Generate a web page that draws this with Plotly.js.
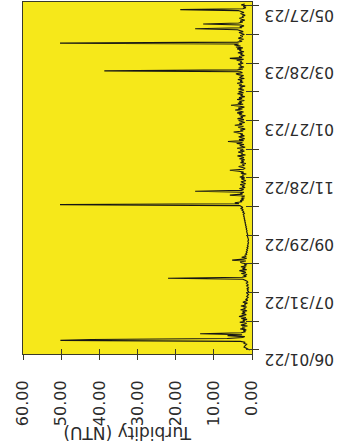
<!DOCTYPE html>
<html>
<head>
<meta charset="utf-8">
<script src="https://cdn.plot.ly/plotly-3.0.1.min.js"></script>
<style>
html,body{margin:0;padding:0;background:#fff;overflow:hidden;}
#chart{width:338px;height:446px;}
</style>
</head>
<body>
<div id="chart"></div>
<script>
// Daily turbidity readings (NTU), one per day starting at startDate
const startDate = '2022-06-01';
const turbidity = [
  0.6, 1.2, 1.8, 2.1, 1.9, 1.6, 1.4, 2.2, 1.8, 3.0,
  50.2, 42.0, 6.5, 2.4, 1.9, 6.4, 2.6, 13.6, 2.8, 1.7,
  2.3, 1.5, 3.1, 1.8, 2.6, 1.2, 2.9, 2.0, 1.4, 3.2,
  1.9, 2.4, 1.3, 2.8, 1.6, 3.4, 2.1, 1.5, 2.7, 1.8,
  2.5, 1.3, 3.0, 1.7, 2.2, 1.4, 2.9, 1.6, 2.0, 1.2,
  2.4, 1.5, 1.1, 1.6, 1.3, 1.0, 1.4, 1.2, 0.9, 1.3,
  1.1, 0.9, 1.2, 1.0, 1.3, 0.9, 1.1, 1.4, 1.0, 1.2,
  1.5, 1.1, 1.3, 1.8, 2.4, 22.0, 2.6, 1.5, 2.2, 1.3,
  2.8, 1.6, 2.1, 3.3, 1.4, 2.5, 1.7, 2.9, 1.5, 2.0,
  1.3, 2.6, 3.1, 1.6, 5.2, 2.2, 1.4, 2.7, 1.5, 1.9,
  1.4, 1.6, 1.3, 1.5, 1.2, 1.4, 1.1, 1.3, 1.0, 1.2,
  1.0, 1.1, 0.9, 1.0, 1.1, 0.9, 1.0, 1.0, 1.1, 1.2,
  1.1, 1.2, 1.3, 1.2, 1.4, 1.3, 1.5, 1.4, 1.6, 1.5,
  1.7, 1.6, 1.8, 1.7, 1.9, 1.8, 2.0, 1.9, 2.1, 2.0,
  2.2, 2.1, 2.3, 2.0, 2.4, 2.2, 2.6, 2.3, 3.0, 2.4,
  2.8, 3.2, 50.3, 3.4, 4.5, 2.6, 3.1, 2.2, 2.9, 2.0,
  2.7, 1.9, 5.8, 2.5, 3.0, 2.1, 14.9, 2.8, 2.2, 3.3,
  1.8, 2.6, 2.0, 3.1, 1.7, 2.4, 2.9, 1.6, 2.3, 2.8,
  1.9, 3.2, 2.1, 2.6, 1.5, 2.9, 2.2, 3.4, 5.8, 2.3,
  1.8, 2.7, 3.5, 2.0, 2.5, 1.6, 3.0, 2.2, 2.8, 1.9,
  3.3, 2.1, 2.6, 3.8, 1.7, 2.9, 2.4, 3.6, 2.0, 3.1,
  2.3, 3.9, 1.8, 2.7, 3.2, 2.1, 4.0, 2.5, 6.3, 2.2,
  3.4, 1.9, 2.8, 3.5, 2.0, 3.0, 2.4, 3.7, 4.8, 2.3,
  3.1, 1.8, 2.9, 3.6, 2.2, 4.5, 2.6, 3.3, 1.9, 2.8,
  3.5, 2.1, 3.8, 2.4, 3.0, 1.7, 3.4, 2.6, 3.9, 2.2,
  3.2, 4.4, 2.5, 3.6, 2.0, 3.1, 5.5, 2.3, 3.7, 2.7,
  3.3, 2.0, 3.9, 2.6, 3.4, 1.9, 3.0, 2.4, 3.8, 2.2,
  3.5, 2.8, 2.1, 3.6, 2.5, 3.2, 1.8, 3.4, 2.7, 3.9,
  2.3, 3.1, 2.6, 3.7, 2.0, 3.3, 2.9, 2.2, 3.6, 4.2,
  2.5, 3.0, 38.7, 3.8, 2.4, 3.5, 2.1, 3.2, 2.8, 3.6,
  2.3, 3.1, 2.7, 4.0, 2.2, 5.8, 2.6, 3.4, 2.0, 3.0,
  2.5, 3.7, 2.1, 3.3, 2.8, 3.9, 2.4, 4.2, 3.0, 4.6,
  3.5, 50.3, 3.8, 2.6, 3.3, 2.2, 3.6, 2.9, 2.4, 3.1,
  2.0, 2.7, 3.4, 2.3, 3.0, 3.8, 14.9, 2.6, 3.2, 2.1,
  2.9, 12.8, 3.5, 2.4, 3.1, 1.9, 2.7, 3.3, 2.2, 2.6,
  1.8, 2.5, 3.0, 2.1, 2.8, 3.6, 18.8, 2.4, 1.6, 2.3,
  1.5, 2.8, 1.9
];
// Date axis ticks (every 30 days, labelled every 60 days)
const dateTickVals = ['2022-06-01','2022-07-01','2022-07-31','2022-08-30','2022-09-29','2022-10-29',
  '2022-11-28','2022-12-28','2023-01-27','2023-02-26','2023-03-28','2023-04-27','2023-05-27'];
const dateTickLabels = ['06/01/22','','07/31/22','','09/29/22','','11/28/22','','01/27/23','','03/28/23','','05/27/23'];
// Turbidity axis ticks
const valueTicks = [0, 10, 20, 30, 40, 50, 60];
const valueTickLabels = ['0.00','10.00','20.00','30.00','40.00','50.00','60.00'];
const axisTitle = 'Turbidity (NTU)';

const dayMs = 86400000;
const t0 = Date.parse(startDate + 'T00:00:00Z');
const dates = turbidity.map((_, i) => new Date(t0 + i * dayMs).toISOString().slice(0, 10));

const font = {family: 'DejaVu Sans', size: 16, color: '#2b2b2b'};
const dateFont = {family: 'DejaVu Sans', size: 15.5, color: '#2b2b2b'};
const dateRange = ['2022-05-27 19:00', '2023-05-31'];

const traces = [
  {x: turbidity, y: dates, type: 'scatter', mode: 'lines',
   line: {color: '#151515', width: 1.1}, hoverinfo: 'x+y', showlegend: false},
  {x: [], y: [], xaxis: 'x2', yaxis: 'y2', type: 'scatter', mode: 'lines', showlegend: false, hoverinfo: 'skip'}
];

const layout = {
  width: 338, height: 446,
  margin: {l: 23, r: 86, t: 2, b: 92},
  paper_bgcolor: '#ffffff',
  plot_bgcolor: '#f6e81a',
  showlegend: false,
  font: font,
  xaxis: {
    range: [60, 0], tickvals: valueTicks, ticktext: valueTickLabels,
    tickangle: -90, ticks: 'outside', ticklen: 5, tickcolor: '#3a3a2a', tickwidth: 1,
    showline: true, linecolor: '#3a3a2a', linewidth: 1, mirror: true,
    showgrid: false, zeroline: false, tickfont: font, ticklabelstandoff: 14
  },
  yaxis: {
    type: 'date', range: dateRange, side: 'right',
    tickvals: dateTickVals, ticktext: dateTickLabels, tickangle: 180,
    ticks: 'outside', ticklen: 6, tickcolor: '#3a3a2a', tickwidth: 1,
    showline: true, linecolor: '#3a3a2a', linewidth: 1, mirror: true,
    showgrid: false, zeroline: false, tickfont: dateFont,
    ticklabelstandoff: 72, ticklabelshift: 14
  },
  xaxis2: {
    overlaying: 'x', anchor: 'y', side: 'bottom', range: [60, 0], tickvals: valueTicks,
    ticks: 'inside', ticklen: 5, tickcolor: '#3a3a2a', showticklabels: false,
    showline: false, showgrid: false, zeroline: false
  },
  yaxis2: {
    overlaying: 'y', anchor: 'x', side: 'right', type: 'date', range: dateRange, tickvals: dateTickVals,
    ticks: 'inside', ticklen: 6, tickcolor: '#3a3a2a', showticklabels: false,
    showline: false, showgrid: false, zeroline: false
  },
  annotations: [{
    text: axisTitle, xref: 'paper', yref: 'paper', x: 0.454, y: -0.225,
    xanchor: 'center', yanchor: 'middle', textangle: 180, showarrow: false,
    font: {family: 'DejaVu Sans', size: 17, color: '#2b2b2b'}
  }]
};

Plotly.newPlot('chart', traces, layout, {staticPlot: true, displayModeBar: false});
</script>
</body>
</html>
